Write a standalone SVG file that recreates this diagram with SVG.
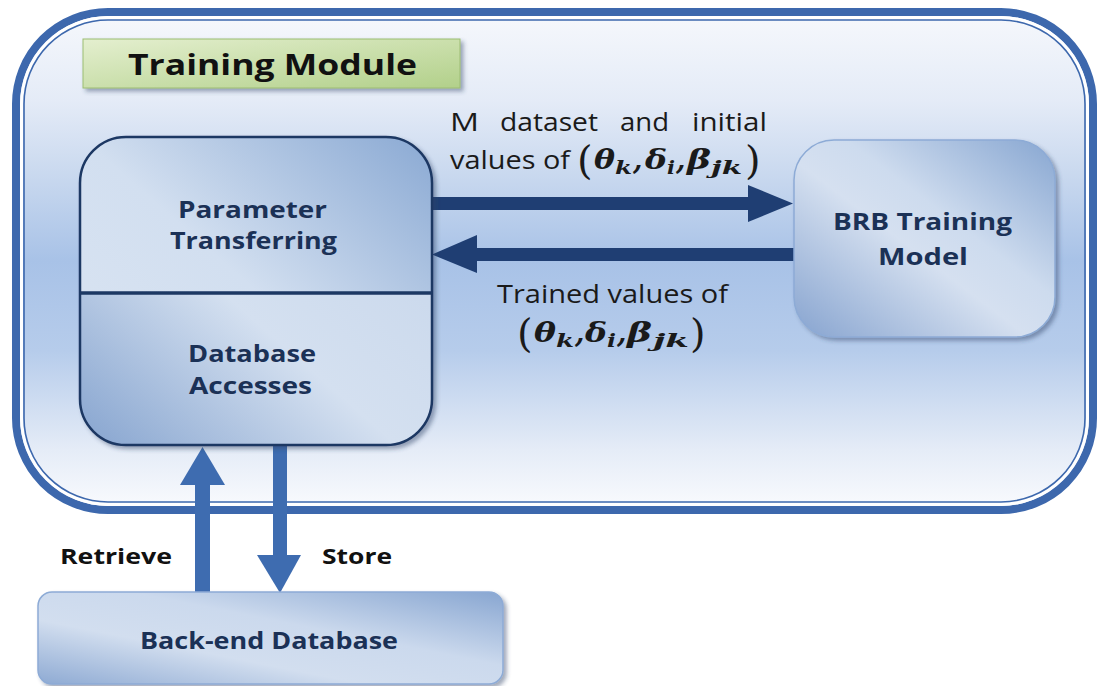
<svg xmlns="http://www.w3.org/2000/svg" width="1100" height="686" viewBox="0 0 1100 686">
  <defs>
    <style>
      .lbl { font-family: "Open Sans", "Liberation Sans", sans-serif; font-weight: 700; fill: #1b3156; font-size: 24px; }
      .blk { font-family: "Open Sans", "Liberation Sans", sans-serif; font-weight: 700; fill: #111; }
      .cap { font-family: "Open Sans", "Liberation Sans", sans-serif; font-weight: 400; fill: #1a1a1a; font-size: 26px; }
      .math { font-family: "DejaVu Serif", "Liberation Serif", serif; font-weight: 700; font-style: italic; fill: #1a1a1a; font-size: 27px; }
      .sub { font-family: "DejaVu Serif", "Liberation Serif", serif; font-weight: 700; font-style: italic; fill: #1a1a1a; font-size: 19px; }
      .paren { font-family: "DejaVu Serif", "Liberation Serif", serif; font-weight: 400; fill: #1a1a1a; font-size: 40px; }
      .dark { fill: #1f3e73; }
      .mid { fill: #3e6cb0; }
    </style>
    <linearGradient id="frameFill" x1="0" y1="0" x2="0" y2="1">
      <stop offset="0" stop-color="#f6f8fc"/>
      <stop offset="0.18" stop-color="#e4ebf7"/>
      <stop offset="0.3" stop-color="#cedcf0"/>
      <stop offset="0.5" stop-color="#a8c2e7"/>
      <stop offset="0.68" stop-color="#b6cceb"/>
      <stop offset="0.88" stop-color="#e5ecf7"/>
      <stop offset="1" stop-color="#fafbfe"/>
    </linearGradient>
    <linearGradient id="titleFill" x1="0" y1="0" x2="1" y2="1">
      <stop offset="0" stop-color="#e4efcf"/>
      <stop offset="1" stop-color="#b2d08a"/>
    </linearGradient>
    <linearGradient id="topHalf" x1="0" y1="1" x2="1" y2="0">
      <stop offset="0" stop-color="#dbe5f2"/>
      <stop offset="0.5" stop-color="#d2dff0"/>
      <stop offset="1" stop-color="#8aa9d3"/>
    </linearGradient>
    <linearGradient id="bottomHalf" x1="0" y1="1" x2="1" y2="0">
      <stop offset="0" stop-color="#86a4cf"/>
      <stop offset="0.45" stop-color="#d4e0f0"/>
      <stop offset="1" stop-color="#c4d4ea"/>
    </linearGradient>
    <linearGradient id="brbFill" x1="0" y1="1" x2="1" y2="0">
      <stop offset="0" stop-color="#86a3cf"/>
      <stop offset="0.45" stop-color="#d5e0f0"/>
      <stop offset="0.6" stop-color="#cddbee"/>
      <stop offset="1" stop-color="#87a6d1"/>
    </linearGradient>
    <linearGradient id="dbFill" x1="0" y1="1" x2="1" y2="0">
      <stop offset="0" stop-color="#8eaad3"/>
      <stop offset="0.35" stop-color="#d2deef"/>
      <stop offset="0.6" stop-color="#cbd9ed"/>
      <stop offset="1" stop-color="#88a6d1"/>
    </linearGradient>
    <filter id="shadow" x="-10%" y="-10%" width="125%" height="125%">
      <feDropShadow dx="3" dy="3" stdDeviation="2" flood-color="#2a3f66" flood-opacity="0.45"/>
    </filter>
    <clipPath id="topClip"><rect x="70" y="130" width="380" height="163"/></clipPath>
    <clipPath id="botClip"><rect x="70" y="293" width="380" height="160"/></clipPath>
  </defs>

  <rect width="1100" height="686" fill="#ffffff"/>

  <!-- outer module frame: thick band, white gap, thin inner rule -->
  <g id="training-module">
    <rect x="16" y="12" width="1077" height="498" rx="92" fill="url(#frameFill)" stroke="#3d68ad" stroke-width="8"/>
    <rect x="21.5" y="17.5" width="1066" height="487" rx="87" fill="none" stroke="#ffffff" stroke-width="3"/>
    <rect x="24" y="20" width="1061" height="482" rx="84" fill="none" stroke="#3d68ad" stroke-width="1.6"/>
  </g>

  <!-- title tab -->
  <g id="title">
    <rect x="83" y="39" width="377" height="49" fill="url(#titleFill)" stroke="#9cbd73" stroke-width="1" filter="url(#shadow)"/>
    <text class="blk" x="128" y="75" font-size="29" textLength="289" lengthAdjust="spacingAndGlyphs">Training Module</text>
  </g>

  <!-- connectors -->
  <g id="connectors">
    <!-- to BRB Training Model -->
    <rect class="dark" x="432" y="197" width="320" height="13"/>
    <polygon class="dark" points="748,185 793,203.5 748,222"/>
    <!-- back to Parameter Transferring -->
    <rect class="dark" x="472" y="248" width="322" height="13"/>
    <polygon class="dark" points="477,235 432,254.5 477,273"/>
    <!-- Retrieve (up) -->
    <rect class="mid" x="195" y="482" width="15" height="111"/>
    <polygon class="mid" points="180,485 202.5,447 225,485"/>
    <!-- Store (down) -->
    <rect class="mid" x="273" y="445" width="14" height="112"/>
    <polygon class="mid" points="257,555 280,593 301,555"/>
  </g>

  <!-- parameter transferring / database accesses -->
  <g id="access-node" filter="url(#shadow)">
    <rect x="80" y="137" width="352" height="308" rx="46" fill="url(#topHalf)" clip-path="url(#topClip)"/>
    <rect x="80" y="137" width="352" height="308" rx="46" fill="url(#bottomHalf)" clip-path="url(#botClip)"/>
    <rect x="80" y="137" width="352" height="308" rx="46" fill="none" stroke="#1d3763" stroke-width="2.5"/>
    <line x1="80" y1="293" x2="432" y2="293" stroke="#1d3763" stroke-width="3.5"/>
  </g>
  <g id="access-labels">
    <text class="lbl" x="178" y="218" textLength="149" lengthAdjust="spacingAndGlyphs">Parameter</text>
    <text class="lbl" x="170" y="249" textLength="167" lengthAdjust="spacingAndGlyphs">Transferring</text>
    <text class="lbl" x="188" y="362" textLength="128" lengthAdjust="spacingAndGlyphs">Database</text>
    <text class="lbl" x="189" y="394" textLength="123" lengthAdjust="spacingAndGlyphs">Accesses</text>
  </g>

  <!-- BRB training model -->
  <g id="brb-node">
    <rect x="794" y="140" width="261" height="197" rx="40" fill="url(#brbFill)" stroke="#8dabd6" stroke-width="1.5" filter="url(#shadow)"/>
    <text class="lbl" x="833" y="230" textLength="179" lengthAdjust="spacingAndGlyphs">BRB Training</text>
    <text class="lbl" x="878" y="265" textLength="90" lengthAdjust="spacingAndGlyphs">Model</text>
  </g>

  <!-- back-end database -->
  <g id="db-node">
    <rect x="38" y="592" width="465" height="92" rx="14" fill="url(#dbFill)" stroke="#8dabd6" stroke-width="1.5" filter="url(#shadow)"/>
    <text class="lbl" x="140" y="649" textLength="258" lengthAdjust="spacingAndGlyphs">Back-end Database</text>
  </g>

  <!-- connector labels -->
  <g id="edge-labels">
    <text class="cap" x="450" y="131" textLength="29" lengthAdjust="spacingAndGlyphs">M</text>
    <text class="cap" x="500" y="131" textLength="98" lengthAdjust="spacingAndGlyphs">dataset</text>
    <text class="cap" x="620" y="131" textLength="49" lengthAdjust="spacingAndGlyphs">and</text>
    <text class="cap" x="692" y="131" textLength="75" lengthAdjust="spacingAndGlyphs">initial</text>
    <text class="cap" x="450" y="169" textLength="120" lengthAdjust="spacingAndGlyphs">values of</text>

    <!-- (θk, δi, βjk) on the forward arrow -->
    <text class="paren" x="577" y="174">(</text>
    <text class="math" x="594" y="169" textLength="21" lengthAdjust="spacingAndGlyphs">θ</text>
    <text class="sub" x="615" y="174" textLength="17" lengthAdjust="spacingAndGlyphs">k</text>
    <text class="math" x="633" y="169" font-size="21">,</text>
    <text class="math" x="645" y="169" textLength="22" lengthAdjust="spacingAndGlyphs">δ</text>
    <text class="sub" x="667" y="174" textLength="8" lengthAdjust="spacingAndGlyphs">i</text>
    <text class="math" x="676" y="169" font-size="21">,</text>
    <text class="math" x="687" y="169" textLength="24" lengthAdjust="spacingAndGlyphs">β</text>
    <text class="sub" x="711" y="174" textLength="31" lengthAdjust="spacingAndGlyphs">jk</text>
    <text class="paren" x="745" y="174">)</text>

    <text class="cap" x="497" y="303" textLength="231" lengthAdjust="spacingAndGlyphs">Trained values of</text>

    <!-- (θk, δi, βjk) under the return arrow -->
    <text class="paren" x="517" y="347">(</text>
    <text class="math" x="534" y="342" textLength="22" lengthAdjust="spacingAndGlyphs">θ</text>
    <text class="sub" x="556" y="347" textLength="18" lengthAdjust="spacingAndGlyphs">k</text>
    <text class="math" x="575" y="342" font-size="21">,</text>
    <text class="math" x="585" y="342" textLength="22" lengthAdjust="spacingAndGlyphs">δ</text>
    <text class="sub" x="607" y="347" textLength="9" lengthAdjust="spacingAndGlyphs">i</text>
    <text class="math" x="617" y="342" font-size="21">,</text>
    <text class="math" x="627" y="342" textLength="25" lengthAdjust="spacingAndGlyphs">β</text>
    <text class="sub" x="653" y="347" textLength="36" lengthAdjust="spacingAndGlyphs">jk</text>
    <text class="paren" x="690" y="347">)</text>

    <text class="blk" x="60" y="564" font-size="22" textLength="112" lengthAdjust="spacingAndGlyphs">Retrieve</text>
    <text class="blk" x="322" y="564" font-size="22" textLength="70" lengthAdjust="spacingAndGlyphs">Store</text>
  </g>
</svg>
